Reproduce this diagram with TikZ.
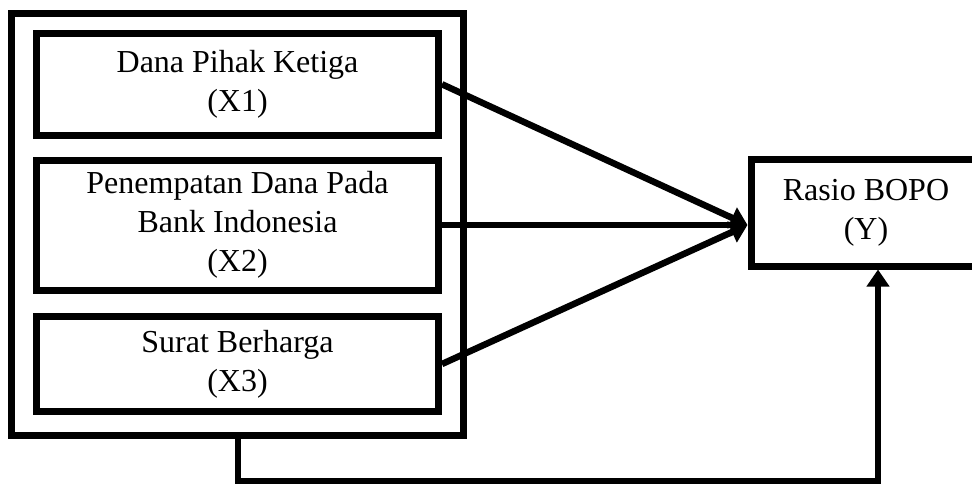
\documentclass[tikz,border=0pt]{standalone}
\usepackage{fontspec}
\setmainfont{Liberation Serif}
\usetikzlibrary{arrows.meta}
\begin{document}
\begin{tikzpicture}[x=1pt,y=-1pt,
  box/.style={draw,line width=7pt,rectangle,align=center,inner sep=0pt,
    font=\fontsize{32}{39}\selectfont},
  arr/.style={line width=6.5pt,-{Triangle[length=17pt,width=22pt]}}]
\clip (0,0) rectangle (972,485);
\useasboundingbox (0,0) rectangle (972,485);
\node[box,minimum width=452pt,minimum height=421.5pt] (outer) at (237.5,224.25) {};
\node[box,minimum width=402pt,minimum height=101.5pt] (x1) at (237.5,84.25) {Dana Pihak Ketiga\\(X1)};
\node[box,minimum width=402pt,minimum height=130pt] (x2) at (237.5,225) {Penempatan Dana Pada\\Bank Indonesia\\(X2)};
\node[box,minimum width=402pt,minimum height=95pt] (x3) at (237.5,364) {Surat Berharga\\(X3)};
\node[box,minimum width=230pt,minimum height=107pt] (y) at (866,212.5) {Rasio BOPO\\(Y)};
\draw[arr] (x1.east) -- (x2.east -| y.west);
\draw[arr] (x2.east) -- (x2.east -| y.west);
\draw[arr] (x3.east) -- (x2.east -| y.west);
\draw[arr,line width=6pt] (outer.south) -- ++(0,42.5) -| ([xshift=12pt]y.south);
\end{tikzpicture}
\end{document}
